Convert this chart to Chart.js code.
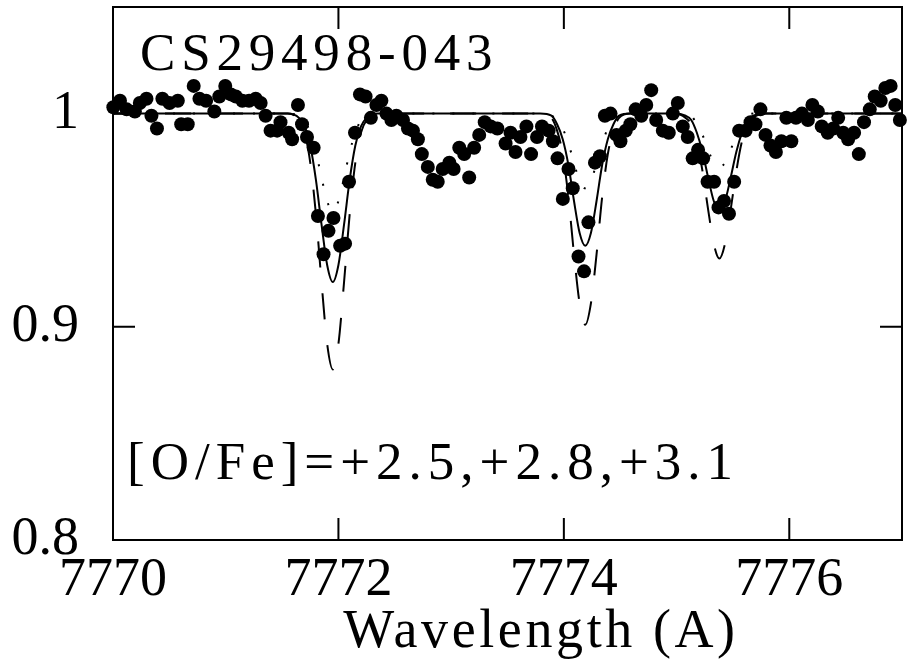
<!DOCTYPE html>
<html>
<head>
<meta charset="utf-8">
<script src="https://cdn.jsdelivr.net/npm/chart.js@4.4.1/dist/chart.umd.min.js"></script>
<style>
  html, body { margin: 0; padding: 0; background: #fff; }
  #wrap { width: 909px; height: 662px; }
</style>
</head>
<body>
<div id="wrap"><canvas id="spec" width="909" height="662"></canvas></div>
<script>
const starName = 'CS29498-043';
const abundLabel = '[O/Fe]=+2.5,+2.8,+3.1';
const xTitle = 'Wavelength (A)';
const xTickValues = [7770, 7772, 7774, 7776];
const yTickValues = [0.8, 0.9, 1.0];
const yTickLabels = ['0.8', '0.9', '1'];

// observed spectrum (normalised flux)
const obsWave = [
  7770.003, 7770.062, 7770.121, 7770.194, 7770.238, 7770.297, 7770.341, 7770.390, 7770.438, 7770.502,
  7770.575, 7770.605, 7770.663, 7770.716, 7770.767, 7770.826, 7770.899, 7770.943, 7770.996, 7771.046,
  7771.090, 7771.148, 7771.207, 7771.266, 7771.310, 7771.354, 7771.398, 7771.456, 7771.486, 7771.559,
  7771.589, 7771.641, 7771.677, 7771.721, 7771.780, 7771.818, 7771.868, 7771.912, 7771.956, 7772.015,
  7772.059, 7772.094, 7772.147, 7772.191, 7772.241, 7772.288, 7772.337, 7772.381, 7772.426, 7772.470,
  7772.514, 7772.573, 7772.617, 7772.661, 7772.705, 7772.740, 7772.793, 7772.837, 7772.881, 7772.925,
  7772.984, 7773.022, 7773.072, 7773.116, 7773.160, 7773.204, 7773.249, 7773.298, 7773.351, 7773.410,
  7773.483, 7773.527, 7773.571, 7773.615, 7773.668, 7773.709, 7773.762, 7773.806, 7773.865, 7773.903,
  7773.944, 7773.991, 7774.041, 7774.079, 7774.130, 7774.179, 7774.218, 7774.276, 7774.320, 7774.364,
  7774.414, 7774.467, 7774.502, 7774.549, 7774.590, 7774.637, 7774.687, 7774.731, 7774.775, 7774.819,
  7774.878, 7774.931, 7774.967, 7775.011, 7775.055, 7775.099, 7775.143, 7775.191, 7775.236, 7775.275,
  7775.333, 7775.372, 7775.421, 7775.465, 7775.511, 7775.555, 7775.612, 7775.656, 7775.700, 7775.744,
  7775.789, 7775.833, 7775.881, 7775.930, 7775.974, 7776.018, 7776.059, 7776.112, 7776.165, 7776.205,
  7776.253, 7776.288, 7776.341, 7776.390, 7776.434, 7776.478, 7776.522, 7776.575, 7776.617, 7776.663,
  7776.714, 7776.758, 7776.811, 7776.852, 7776.899, 7776.940, 7776.981
];
const obsFlux = [
  1.003, 1.006, 1.002, 1.001, 1.005, 1.007, 0.999, 0.993, 1.007, 1.005,
  1.006, 0.995, 0.995, 1.013, 1.007, 1.006, 1.001, 1.008, 1.013, 1.009,
  1.008, 1.006, 1.006, 1.007, 1.005, 0.999, 0.992, 0.992, 0.996, 0.991,
  0.988, 1.004, 0.995, 0.989, 0.984, 0.952, 0.934, 0.945, 0.951, 0.938,
  0.939, 0.968, 0.991, 1.009, 1.008, 0.998, 1.004, 1.006, 1.000, 0.997,
  0.999, 0.997, 0.993, 0.992, 0.988, 0.981, 0.975, 0.969, 0.968, 0.974,
  0.977, 0.974, 0.984, 0.981, 0.970, 0.984, 0.990, 0.996, 0.994, 0.993,
  0.986, 0.991, 0.982, 0.989, 0.994, 0.981, 0.989, 0.994, 0.992, 0.987,
  0.979, 0.960, 0.974, 0.965, 0.933, 0.926, 0.949, 0.977, 0.980, 0.999,
  1.000, 0.990, 0.987, 0.992, 0.995, 1.002, 0.999, 1.004, 1.011, 0.997,
  0.992, 0.991, 1.000, 1.005, 0.994, 0.989, 0.979, 0.983, 0.979, 0.968,
  0.968, 0.956, 0.959, 0.953, 0.968, 0.992, 0.992, 0.996, 0.995, 1.002,
  0.990, 0.985, 0.982, 0.987, 0.998, 0.987, 0.998, 1.000, 0.997, 1.004,
  1.001, 0.994, 0.991, 0.993, 0.998, 0.991, 0.988, 0.991, 0.981, 0.996,
  1.002, 1.008, 1.006, 1.012, 1.013, 1.004, 0.997
];

// synthetic spectra
const modelWave = [
  7770.00,
  7771.55, 7771.65, 7771.70, 7771.75, 7771.80, 7771.85, 7771.90, 7771.95,
  7772.00, 7772.05, 7772.10, 7772.15, 7772.20, 7772.25, 7772.35,
  7773.79, 7773.89, 7773.94, 7773.99, 7774.04, 7774.09, 7774.14, 7774.19,
  7774.24, 7774.29, 7774.34, 7774.39, 7774.44, 7774.49, 7774.59,
  7774.98, 7775.08, 7775.13, 7775.18, 7775.23, 7775.28, 7775.33, 7775.38,
  7775.43, 7775.48, 7775.53, 7775.58, 7775.63, 7775.68, 7775.78,
  7777.00
];
// [O/Fe] = +2.8 (solid)
const modelMid = [
  1.000,
  1.000, 0.998, 0.994, 0.985, 0.969, 0.948, 0.929, 0.921,
  0.929, 0.948, 0.969, 0.985, 0.994, 0.998, 1.000,
  1.000, 0.999, 0.995, 0.988, 0.976, 0.959, 0.944, 0.938,
  0.944, 0.959, 0.976, 0.988, 0.995, 0.999, 1.000,
  1.000, 0.999, 0.997, 0.991, 0.982, 0.970, 0.959, 0.955,
  0.959, 0.970, 0.982, 0.991, 0.997, 0.999, 1.000,
  1.000
];
// [O/Fe] = +3.1 (dashed)
const modelHigh = [
  1.000,
  1.000, 0.997, 0.991, 0.977, 0.953, 0.921, 0.892, 0.880,
  0.892, 0.921, 0.953, 0.977, 0.991, 0.997, 1.000,
  1.000, 0.998, 0.992, 0.981, 0.961, 0.934, 0.911, 0.901,
  0.911, 0.934, 0.961, 0.981, 0.992, 0.998, 1.000,
  1.000, 0.998, 0.995, 0.987, 0.973, 0.955, 0.939, 0.932,
  0.939, 0.955, 0.973, 0.987, 0.995, 0.998, 1.000,
  1.000
];
// [O/Fe] = +2.5 (dotted)
const modelLow = [
  1.000,
  1.000, 0.999, 0.997, 0.991, 0.982, 0.970, 0.959, 0.954,
  0.959, 0.970, 0.982, 0.991, 0.997, 0.999, 1.000,
  1.000, 0.999, 0.997, 0.993, 0.986, 0.977, 0.968, 0.965,
  0.968, 0.977, 0.986, 0.993, 0.997, 0.999, 1.000,
  1.000, 1.000, 0.999, 0.995, 0.990, 0.983, 0.977, 0.975,
  0.977, 0.983, 0.990, 0.995, 0.999, 1.000, 1.000,
  1.000
];

const FONT = "'Liberation Serif', 'Times New Roman', serif";

function pairs(xs, ys) {
  return xs.map((x, i) => ({ x: x, y: ys[i] }));
}

function modelLine(label, ys, dash) {
  return {
    type: 'line',
    label: label,
    data: pairs(modelWave, ys),
    borderColor: '#000',
    borderWidth: 2,
    borderDash: dash,
    pointRadius: 0,
    fill: false,
    cubicInterpolationMode: 'monotone'
  };
}

// frame, inward ticks and free text
const frameAndText = {
  id: 'frameAndText',
  beforeDatasetsDraw(chart) {
    const { ctx, chartArea: a, scales: { x, y } } = chart;
    const tick = 22;
    ctx.save();
    ctx.strokeStyle = '#000';
    ctx.lineWidth = 2;
    ctx.strokeRect(a.left, a.top, a.right - a.left, a.bottom - a.top);
    ctx.beginPath();
    xTickValues.forEach(v => {
      const px = x.getPixelForValue(v);
      if (px <= a.left + 1) return;
      ctx.moveTo(px, a.bottom); ctx.lineTo(px, a.bottom - tick);
      ctx.moveTo(px, a.top); ctx.lineTo(px, a.top + tick);
    });
    yTickValues.forEach(v => {
      const py = y.getPixelForValue(v);
      if (py >= a.bottom - 1) return;
      ctx.moveTo(a.left, py); ctx.lineTo(a.left + tick, py);
      ctx.moveTo(a.right, py); ctx.lineTo(a.right - tick, py);
    });
    ctx.stroke();
    ctx.restore();
  },
  afterDraw(chart) {
    const ctx = chart.ctx;
    ctx.save();
    ctx.fillStyle = '#000';
    ctx.textBaseline = 'alphabetic';

    ctx.font = '53px ' + FONT;
    ctx.letterSpacing = '5.8px';
    ctx.textAlign = 'left';
    ctx.fillText(starName, 140, 70);

    ctx.letterSpacing = '6px';
    ctx.fillText(abundLabel, 127, 479);

    ctx.font = '54px ' + FONT;
    ctx.letterSpacing = '3.6px';
    ctx.textAlign = 'center';
    ctx.fillText(xTitle, 541, 647);
    ctx.restore();
  }
};

new Chart(document.getElementById('spec'), {
  type: 'scatter',
  data: {
    datasets: [
      {
        type: 'scatter',
        label: starName,
        data: pairs(obsWave, obsFlux),
        backgroundColor: '#000',
        borderWidth: 0,
        pointRadius: 7,
        clip: 8
      },
      modelLine('[O/Fe]=+2.8', modelMid, []),
      modelLine('[O/Fe]=+3.1', modelHigh, [26, 26]),
      modelLine('[O/Fe]=+2.5', modelLow, [2, 18])
    ]
  },
  options: {
    responsive: false,
    animation: false,
    devicePixelRatio: 1,
    layout: { padding: { top: 5, right: 2, left: 0, bottom: 0 } },
    plugins: {
      legend: { display: false },
      tooltip: { enabled: false }
    },
    scales: {
      x: {
        type: 'linear',
        min: 7770,
        max: 7777,
        afterBuildTicks: s => { s.ticks = xTickValues.map(v => ({ value: v })); },
        afterFit: s => { s.height = 122; s.paddingLeft = 0; s.paddingRight = 0; },
        grid: { display: false, drawTicks: false },
        border: { display: false },
        ticks: {
          color: '#000',
          font: { family: FONT, size: 54 },
          padding: 8,
          maxRotation: 0,
          autoSkip: false,
          callback: v => String(v)
        }
      },
      y: {
        type: 'linear',
        min: 0.8,
        max: 1.05,
        afterBuildTicks: s => { s.ticks = yTickValues.map(v => ({ value: v })); },
        afterFit: s => { s.width = 113; s.paddingTop = 0; s.paddingBottom = 0; },
        grid: { display: false, drawTicks: false },
        border: { display: false },
        ticks: {
          color: '#000',
          font: { family: FONT, size: 54 },
          padding: 34,
          callback: v => {
            const i = yTickValues.findIndex(t => Math.abs(t - v) < 1e-6);
            return i >= 0 ? yTickLabels[i] : '';
          }
        }
      }
    }
  },
  plugins: [frameAndText]
});
</script>
</body>
</html>
